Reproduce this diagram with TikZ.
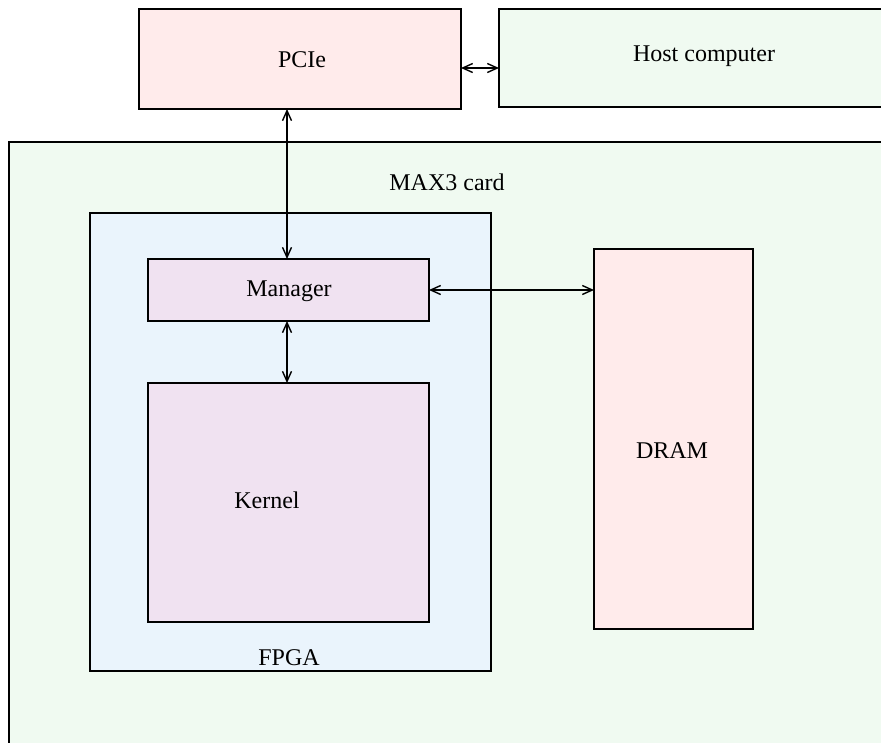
\documentclass[tikz,border=0pt]{standalone}
\usepackage{fontspec}
\setmainfont{Liberation Serif}
\usetikzlibrary{arrows.meta}
\definecolor{pinkfill}{RGB}{255,235,235}
\definecolor{greenfill}{RGB}{240,250,241}
\definecolor{bluefill}{RGB}{234,244,252}
\definecolor{lavfill}{RGB}{240,226,241}
\begin{document}
\begin{tikzpicture}[x=1pt,y=-1pt,
  box/.style={draw=black,line width=1.1pt,rectangle,inner sep=0pt,outer sep=0pt},
  lbl/.style={font=\fontsize{24}{28}\selectfont,inner sep=0pt},
  conn/.style={line width=1.2pt,{Straight Barb[length=10pt,width=9pt,line width=1.4pt]}-{Straight Barb[length=10pt,width=9pt,line width=1.4pt]}}]
\useasboundingbox (0,0) rectangle (881,742);
\clip (0,0) rectangle (881,742);
% MAX3 card
\path[box,fill=greenfill] (9,142) rectangle (920,780);
\node[lbl] (maxlbl) at (447,182) {MAX3 card};
% PCIe and host
\node[box,fill=pinkfill,minimum width=322pt,minimum height=100pt] (pcie) at (300,59) {};
\node[lbl] (pcielbl) at (302,60) {PCIe};
\node[box,fill=greenfill,minimum width=410pt,minimum height=98pt] (host) at (704,58) {};
\node[lbl] (hostlbl) at (704,56) {Host computer};
% FPGA
\node[box,fill=bluefill,minimum width=401pt,minimum height=458pt] (fpga) at (290.5,442) {};
\node[lbl] (fpgalbl) at (289,658) {FPGA};
% Manager
\node[box,fill=lavfill,minimum width=281pt,minimum height=62pt] (mgr) at (288.5,290) {};
\node[lbl] (mgrlbl) at (289,291) {Manager};
% Kernel
\node[box,fill=lavfill,minimum width=281pt,minimum height=239pt] (kern) at (288.5,502.5) {};
\node[lbl] (kernlbl) at (267,500) {Kernel};
% DRAM
\node[box,fill=pinkfill,minimum width=159pt,minimum height=380pt] (dram) at (673.5,439) {};
\node[lbl] (dramlbl) at (672,451) {DRAM};
% connectors
\draw[conn] (pcie.south -| 287,0) -- (mgr.north -| 287,0);
\draw[conn] (pcie.east |- 0,68) -- (host.west |- 0,68);
\draw[conn] (mgr.east) -- (dram.west |- mgr.east);
\draw[conn] (mgr.south -| 287,0) -- (kern.north -| 287,0);
\end{tikzpicture}
\end{document}
